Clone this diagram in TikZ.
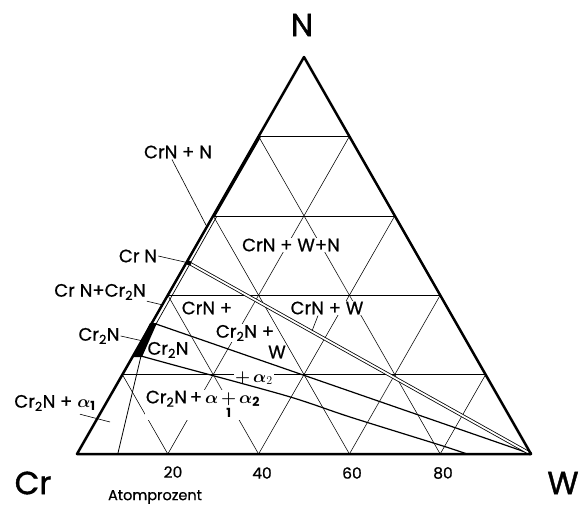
\documentclass[tikz,border=0pt]{standalone}
\usepackage{amsmath}
\usepackage{fontspec}
\setmainfont{Poppins}
\newfontfamily\lblfont{Poppins}[FakeBold=0.7]
\newfontfamily\bigfont{Poppins}[FakeBold=1.2]
\begin{document}
\begin{tikzpicture}[x=1pt,y=-1pt]
\tikzset{
  gridline/.style={line width=0.55pt},
  edgeline/.style={line width=2.5pt, line join=round},
  phase/.style={line width=1.2pt},
  lbl/.style={font=\lblfont\fontsize{18}{20}\selectfont, inner sep=1pt, fill=white},
  num/.style={font=\lblfont\fontsize{15.5}{17}\selectfont, inner sep=0pt},
  lead/.style={line width=0.6pt},
  big/.style={font=\bigfont\fontsize{32}{34}\selectfont, inner sep=0pt}
}
\newcommand\ba{\boldsymbol{\alpha}}
\useasboundingbox (0,0) rectangle (579,506);
% vertices
\coordinate (C) at (77,454);
\coordinate (Wv) at (531,454);
\coordinate (Nv) at (304,57);
% grid
\foreach \k in {0.2,0.4,0.6,0.8}{
  \draw[gridline] ({77+227*\k},{454-397*\k}) -- ({77+454*(1-\k)+227*\k},{454-397*\k});
  \draw[gridline] ({77+454*\k},454) -- ({77+454*\k+227*(1-\k)},{454-397*(1-\k)});
  \draw[gridline] ({77+454*(1-\k)},454) -- ({77+227*(1-\k)},{454-397*(1-\k)});
}
% labels inside (white background interrupts grid)
\node[lbl] (crnwn) at (291,245) {CrN + W+N};
\node[lbl] (crnw) at (327,308) {CrN + W};
\node[lbl] (crnp) at (207,308) {CrN +};
\node[lbl] (cr2np) at (245,333) {Cr\textsubscript{2}N +};
\node[lbl] (wl) at (277,352) {W};
\node[lbl] (cr2nin) at (168,350) {Cr\textsubscript{2}N};
\node[lbl] (pa2) at (254,378) {$\boldsymbol{+}\,\ba_2$};
\node[lbl] (cra12) at (203,405) {Cr\textsubscript{2}N\,+\,$\ba\mathop{\boldsymbol{+}}\limits_{\mathbf{1}}\ba_{\mathbf{2}}$};
% outside labels
\node[lbl] (crnn) at (178,152) {CrN + N};
\node[lbl] (crn) at (138,256) {Cr N};
\node[lbl] (crncr) at (100,292) {Cr N+Cr\textsubscript{2}N};
\node[lbl] (cr2n) at (99,336) {Cr\textsubscript{2}N};
\node[lbl] (cra1) at (55,403) {Cr\textsubscript{2}N + $\ba_{\mathbf{1}}$};
% phase boundaries
\coordinate (crnpt) at (189,263);
\coordinate (bandtop) at (156,324);
\coordinate (bandbot) at (141,356);
\coordinate (ia) at (217,216);
\coordinate (alb) at (118,453);
\coordinate (lowend) at (467,454);
\draw[line width=0.7pt] (ia) -- (bandtop);
\fill (150,323) -- (157,323) -- (142,357) -- (133,357) -- cycle;
\draw[phase] (bandtop) -- (Wv);
\draw[phase] plot[smooth, tension=0.5] coordinates {(bandbot) (170,364) (287,396) (350,417) (443,446) (lowend)};
\draw[line width=0.8pt] (bandbot) -- (alb);
\draw[line width=0.8pt, double distance=1.8pt] (crnpt) -- (Wv);
\fill (crnpt) circle (2.4pt);
% triangle
\draw[edgeline] (C) -- (Wv) -- (Nv) -- cycle;
\draw[line width=1.7pt] (214.5,216) -- (260,137);
% leaders
\coordinate (l1) at (207,227);
\coordinate (l3) at (163,305);
\coordinate (l4) at (143,341);
\coordinate (l5) at (110,422);
\coordinate (l6) at (312,331);
\draw[lead] ([xshift=-6pt]crnn.south) -- (l1);
\draw[lead] (crn.east) -- (crnpt);
\draw[lead] (crncr.south east) -- (l3);
\draw[lead] (cr2n.east) -- (l4);
\draw[lead] ([xshift=25pt,yshift=-2pt]cra1.south) -- (l5);
\draw[lead] ([xshift=-9pt]crnw.south) -- (l6);
% axis labels
\node[big] (Nl) at (302,25) {N};
\node[big] (Crl) at (33,483) {Cr};
\node[big] (Wl) at (563,483) {W};
\node[num] (t20) at (173,472) {20};
\node[num] (t40) at (262,473) {40};
\node[num] (t60) at (352,473) {60};
\node[num] (t80) at (443,473) {80};
\node[num, font=\lblfont\fontsize{14.5}{16}\selectfont] (ap) at (155,497) {Atomprozent};
\end{tikzpicture}
\end{document}
